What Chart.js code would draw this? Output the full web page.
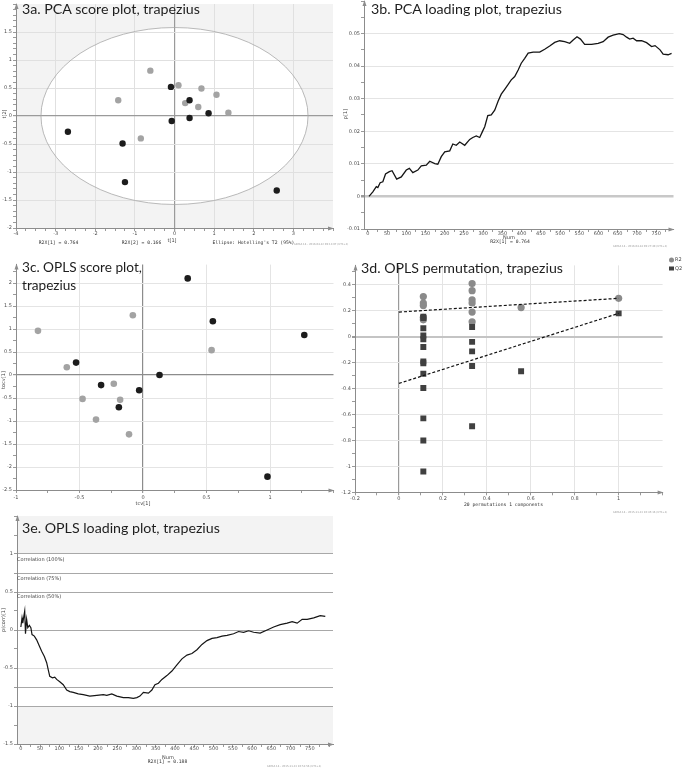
<!DOCTYPE html>
<html>
<head>
<meta charset="utf-8">
<title>Trapezius PCA / OPLS plots</title>
<script src="https://cdn.jsdelivr.net/npm/chart.js@4.4.1/dist/chart.umd.min.js"></script>
<style>
  body { margin: 0; background: #fff; }
  #page { position: relative; width: 685px; height: 769px; overflow: hidden; background: #fff; }
  canvas { position: absolute; }
  .title { position: absolute; font-family: Lato, sans-serif; color: #1e1e1e; white-space: nowrap; line-height: 1; }
  .lab { position: absolute; transform: translate(-50%, -50%); white-space: nowrap; line-height: 1;
         font-family: "DejaVu Sans", sans-serif; font-size: 5px; color: #444; }
  .rot { transform: translate(-50%, -50%) rotate(-90deg); }
  .mono { font-family: "DejaVu Sans Mono", monospace; font-size: 4.7px; color: #333; }
  .left { transform: translate(0, -50%); }
  .stamp { transform: translate(0, -50%); font-size: 2.6px; color: #9a9a9a; }
  .dot { display: inline-block; width: 5px; height: 5px; border-radius: 50%; background: #8a8a8a; vertical-align: middle; }
  .sq { display: inline-block; width: 4.5px; height: 4.5px; background: #404040; vertical-align: middle; }
</style>
</head>
<body>
<div id="page">
  <canvas id="c3a" width="340" height="245" style="left:0;top:0"></canvas>
  <canvas id="c3b" width="345" height="250" style="left:340px;top:0"></canvas>
  <canvas id="c3c" width="340" height="260" style="left:0;top:255px"></canvas>
  <canvas id="c3d" width="345" height="260" style="left:340px;top:255px"></canvas>
  <canvas id="c3e" width="340" height="259" style="left:0;top:510px"></canvas>

  <div class="title" id="t3a" data-base="14.5" data-width="178" style="left:22px">3a. PCA score plot, trapezius</div>
  <div class="title" id="t3b" data-base="14.5" data-width="191" style="left:371px">3b. PCA loading plot, trapezius</div>
  <div class="title" id="t3c" data-base="273.5" data-width="120" style="left:22px">3c. OPLS score plot,</div>
  <div class="title" data-base="291.5" data-match="t3c" style="left:22px">trapezius</div>
  <div class="title" id="t3d" data-base="273.5" data-width="202" style="left:361px">3d. OPLS permutation, trapezius</div>
  <div class="title" id="t3e" data-base="533.5" data-width="198" style="left:22px">3e. OPLS loading plot, trapezius</div>

  <!-- 3a -->
  <div class="lab rot" style="left:4px;top:114px">t[2]</div>
  <div class="lab" style="left:172px;top:239.5px">t[1]</div>
  <div class="lab mono" style="left:58.5px;top:243px">R2X[1] = 0.764</div>
  <div class="lab mono" style="left:141.5px;top:243px">R2X[2] = 0.166</div>
  <div class="lab mono" style="left:253.5px;top:243px">Ellipse: Hotelling's T2 (95%)</div>
  <div class="lab stamp" style="left:294px;top:245px">SIMCA 14 - 2016-04-12 09:13:07 (UTC+2)</div>

  <!-- 3b -->
  <div class="lab rot" style="left:345px;top:114px">p[1]</div>
  <div class="lab" style="left:509px;top:237px">Num</div>
  <div class="lab mono" style="left:510px;top:241.5px">R2X[1] = 0.764</div>
  <div class="lab stamp" style="left:613px;top:247px">SIMCA 14 - 2016-04-14 09:27:49 (UTC+2)</div>

  <!-- 3c -->
  <div class="lab rot" style="left:3px;top:380px">tocv[1]</div>
  <div class="lab" style="left:143px;top:503px">tcv[1]</div>

  <!-- 3d -->
  <div class="lab left" style="left:668.5px;top:259.7px"><span class="dot"></span> R2</div>
  <div class="lab left" style="left:669px;top:268.3px"><span class="sq"></span> Q2</div>
  <div class="lab mono" style="left:503.5px;top:504.5px">20 permutations 1 components</div>
  <div class="lab stamp" style="left:613px;top:513px">SIMCA 14 - 2015-11-23 10:45:16 (UTC+1)</div>

  <!-- 3e -->
  <div class="lab rot" style="left:3px;top:620px">p(corr)[1]</div>
  <div class="lab left" style="left:17px;top:559px">Correlation (100%)</div>
  <div class="lab left" style="left:17px;top:577.5px">Correlation (75%)</div>
  <div class="lab left" style="left:17px;top:596px">Correlation (50%)</div>
  <div class="lab" style="left:168px;top:756.5px">Num</div>
  <div class="lab mono" style="left:167.5px;top:761.5px">R2X[1] = 0.188</div>
  <div class="lab stamp" style="left:267px;top:767px">SIMCA 14 - 2015-11-23 10:51:56 (UTC+1)</div>
</div>

<script>
// ---- 3a PCA score plot: t[1], t[2] per group ----
const pcaGreyT1 = [-1.42, -0.61, -0.85, 0.10, 0.68, 1.06, 0.27, 0.60, 1.36];
const pcaGreyT2 = [0.28, 0.81, -0.40, 0.55, 0.49, 0.38, 0.23, 0.16, 0.06];
const pcaBlackT1 = [-2.69, -1.31, -1.25, -0.09, -0.07, 0.38, 0.86, 0.38, 2.58];
const pcaBlackT2 = [-0.28, -0.49, -1.18, 0.52, -0.09, 0.28, 0.05, -0.035, -1.33];
const hotellingAxes = [3.37, 1.58];   // Hotelling's T2 (95%) semi axes in t[1], t[2]

// ---- 3b PCA loading plot: p[1] against Num ----
const loadNum = [3, 13, 22, 26, 32, 39, 46, 56, 63, 75,
  87, 100, 108, 117, 130, 139, 152, 161, 174, 182,
  191, 200, 213, 221, 230, 239, 252, 265, 273, 282,
  291, 298, 304, 312, 321, 330, 339, 347, 356, 365,
  373, 382, 391, 399, 408, 417, 430, 447, 460, 473,
  486, 499, 512, 525, 534, 544, 553, 564, 582, 599,
  612, 625, 638, 654, 664, 673, 681, 690, 699, 712,
  725, 738, 747, 760, 768, 781, 790];
const loadP1 = [0, 0.0014, 0.0030, 0.0027, 0.0042, 0.0045, 0.0069, 0.0076, 0.0079, 0.0053,
  0.0060, 0.0081, 0.0086, 0.0073, 0.0081, 0.0094, 0.0096, 0.0108, 0.0101, 0.0099,
  0.0122, 0.0137, 0.0140, 0.0161, 0.0157, 0.0167, 0.0157, 0.0175, 0.0181, 0.0186,
  0.0181, 0.0199, 0.0214, 0.0248, 0.0250, 0.0265, 0.0293, 0.0314, 0.0329, 0.0344,
  0.0358, 0.0368, 0.0388, 0.0409, 0.0424, 0.0440, 0.0443, 0.0443, 0.0452, 0.0462,
  0.0473, 0.0478, 0.0475, 0.0470, 0.0480, 0.0490, 0.0483, 0.0467, 0.0467, 0.0470,
  0.0475, 0.0489, 0.0495, 0.0500, 0.0497, 0.0489, 0.0483, 0.0486, 0.0478, 0.0478,
  0.0472, 0.0460, 0.0463, 0.0450, 0.0437, 0.0435, 0.0439];

// ---- 3c OPLS score plot: tcv[1], tocv[1] ----
const oplsGreyTcv = [-0.827, -0.08, -0.60, -0.23, -0.476, -0.18, -0.37, -0.11, 0.54];
const oplsGreyTocv = [0.96, 1.30, 0.17, -0.19, -0.52, -0.54, -0.97, -1.29, 0.54];
const oplsBlackTcv = [-0.527, -0.33, -0.03, -0.19, 0.13, 0.352, 0.55, 1.27, 0.98];
const oplsBlackTocv = [0.27, -0.22, -0.33, -0.70, 0.0, 2.10, 1.17, 0.87, -2.21];

// ---- 3d permutation test (20 permutations) ----
const r2Corr = [0.111, 0.111, 0.111, 0.111, 0.111, 0.333, 0.333, 0.333, 0.333, 0.333, 0.333, 0.556, 1];
const r2Val = [0.31, 0.26, 0.24, 0.15, 0.13, 0.41, 0.355, 0.285, 0.26, 0.19, 0.115, 0.225, 0.296];
const q2Corr = [0.111, 0.111, 0.111, 0.111, 0.111, 0.111, 0.111, 0.111, 0.111, 0.111, 0.111, 0.111, 0.111,
  0.333, 0.333, 0.333, 0.333, 0.333, 0.556, 1];
const q2Val = [0.155, 0.145, 0.065, 0.01, -0.02, -0.08, -0.19, -0.205, -0.285, -0.395, -0.63, -0.80, -1.04,
  0.075, -0.04, -0.113, -0.226, -0.69, -0.267, 0.18];
const fitCorr = [0, 1];
const r2Fit = [0.19, 0.296];
const q2Fit = [-0.36, 0.18];

// ---- 3e OPLS loading plot: p(corr)[1] against Num ----
const corrNum = [0, 3, 5, 8, 10, 12, 15, 18, 22, 26,
  29, 35, 41, 48, 54, 61, 67, 71, 75, 82,
  88, 93, 101, 110, 119, 127, 136, 149, 162, 179,
  197, 214, 223, 236, 249, 266, 279, 292, 301, 309,
  318, 331, 340, 348, 357, 366, 379, 392, 405, 418,
  431, 444, 457, 470, 483, 496, 509, 522, 535, 552,
  565, 578, 591, 604, 621, 639, 656, 673, 691, 704,
  717, 730, 743, 760, 777, 790];
const corrP = [0.04, 0.16, 0.09, 0.19, 0.25, -0.05, 0.14, 0.03, 0.06, 0.03,
  -0.06, -0.08, -0.13, -0.21, -0.28, -0.35, -0.43, -0.52, -0.61, -0.63,
  -0.62, -0.65, -0.68, -0.72, -0.79, -0.81, -0.82, -0.84, -0.85, -0.87,
  -0.86, -0.85, -0.86, -0.84, -0.87, -0.89, -0.89, -0.90, -0.89, -0.87,
  -0.82, -0.83, -0.79, -0.72, -0.70, -0.65, -0.60, -0.54, -0.46, -0.38,
  -0.33, -0.31, -0.26, -0.19, -0.14, -0.11, -0.10, -0.08, -0.07, -0.05,
  -0.02, -0.03, -0.01, -0.03, -0.04, 0.00, 0.04, 0.07, 0.09, 0.11,
  0.09, 0.14, 0.14, 0.16, 0.19, 0.18];

// ---- helpers ----
function pts(xs, ys) { return xs.map((x, i) => ({ x: x, y: ys[i] })); }
function isMul(v, m) { return Math.abs(v / m - Math.round(v / m)) < 1e-6; }
function fmt(v) { return String(Math.round(v * 10000) / 10000); }
function tickList(min, max, step) {
  const out = [];
  for (let i = Math.ceil(min / step - 1e-9); i * step <= max + 1e-9; i++) {
    out.push({ value: Math.round(i * step * 1e6) / 1e6 });
  }
  return out;
}

// o: min, max, step (minor ticks), major (labels), labelMax, size (px of axis box), vertical, pad, line(v) -> [colour, width] or null
function axis(o) {
  return {
    type: 'linear', min: o.min, max: o.max,
    border: { color: '#8c8c8c', width: 1 },
    grid: {
      drawOnChartArea: true,
      color: c => { const l = o.line ? o.line(c.tick.value) : null; return l ? l[0] : 'rgba(0,0,0,0)'; },
      lineWidth: c => { const l = o.line ? o.line(c.tick.value) : null; return l ? l[1] : 1; },
      tickLength: 3,
      tickColor: '#9a9a9a'
    },
    ticks: {
      autoSkip: false, maxRotation: 0, minRotation: 0,
      padding: o.pad === undefined ? 1 : o.pad,
      color: '#4d4d4d', font: { size: 5, family: '"DejaVu Sans", sans-serif' },
      callback: v => (isMul(v, o.major) && v <= o.labelMax + 1e-9) ? fmt(v) : ''
    },
    afterBuildTicks: s => { s.ticks = tickList(o.min, o.max, o.step); },
    afterFit: s => {
      if (o.vertical) { s.width = o.size; s.paddingTop = 0; s.paddingBottom = 0; }
      else { s.height = o.size; s.paddingLeft = 0; s.paddingRight = 0; }
    }
  };
}

function options(pad, scales) {
  return {
    responsive: false, animation: false, devicePixelRatio: 1, events: [],
    layout: { padding: { left: 0, bottom: 0, top: pad.top, right: pad.right } },
    plugins: { legend: { display: false }, tooltip: { enabled: false } },
    scales: scales
  };
}

const axisArrows = {
  id: 'axisArrows',
  afterDraw(chart) {
    const { ctx, chartArea: a } = chart;
    const lx = Math.floor(a.left) + 0.5, by = Math.floor(a.bottom) + 0.5;
    ctx.save();
    ctx.fillStyle = '#8c8c8c';
    ctx.beginPath();
    ctx.moveTo(lx, a.top - 1); ctx.lineTo(lx - 2, a.top + 5); ctx.lineTo(lx + 2, a.top + 5);
    ctx.fill();
    ctx.beginPath();
    ctx.moveTo(a.right + 1, by); ctx.lineTo(a.right - 5, by - 2); ctx.lineTo(a.right - 5, by + 2);
    ctx.fill();
    ctx.restore();
  }
};

function ellipsePath(chart) {
  const { ctx, scales: { x, y } } = chart;
  const cx = x.getPixelForValue(0), cy = y.getPixelForValue(0);
  ctx.beginPath();
  ctx.ellipse(cx, cy, x.getPixelForValue(hotellingAxes[0]) - cx, cy - y.getPixelForValue(hotellingAxes[1]), 0, 0, Math.PI * 2);
}

const hotelling = {
  id: 'hotelling',
  beforeDraw(chart) {
    const { ctx, chartArea: a } = chart;
    ctx.save();
    ctx.fillStyle = '#f3f3f3';
    ctx.fillRect(a.left, a.top, a.width, a.height);
    ellipsePath(chart);
    ctx.fillStyle = '#ffffff';
    ctx.fill();
    ctx.restore();
  },
  beforeDatasetsDraw(chart) {
    const { ctx } = chart;
    ctx.save();
    ellipsePath(chart);
    ctx.strokeStyle = '#a8a8a8';
    ctx.lineWidth = 0.8;
    ctx.stroke();
    ctx.restore();
  }
};

const corrBands = {
  id: 'corrBands',
  beforeDraw(chart) {
    const { ctx, chartArea: a, scales: { y } } = chart;
    const top = y.getPixelForValue(1), bot = y.getPixelForValue(-1);
    ctx.save();
    ctx.fillStyle = '#f3f3f3';
    ctx.fillRect(a.left, a.top, a.width, top - a.top);
    ctx.fillRect(a.left, bot, a.width, a.bottom - bot);
    ctx.restore();
  }
};

const greyDot = '#a3a3a3';
const blackDot = '#1c1c1c';

// 3a
new Chart(document.getElementById('c3a'), {
  type: 'scatter',
  data: { datasets: [
    { data: pts(pcaBlackT1, pcaBlackT2), pointBackgroundColor: blackDot, backgroundColor: blackDot, pointRadius: 3.2, pointBorderWidth: 0 },
    { data: pts(pcaGreyT1, pcaGreyT2), pointBackgroundColor: greyDot, backgroundColor: greyDot, pointRadius: 3.2, pointBorderWidth: 0 }
  ] },
  options: options({ top: 1, right: 7 }, {
    x: axis({ min: -4, max: 4, step: 0.25, major: 1, labelMax: 3, size: 17, pad: 0,
      line: v => v === 0 ? ['#9a9a9a', 1.2] : (isMul(v, 1) && v < 4 ? ['#e0e0e0', 1] : null) }),
    y: axis({ min: -2, max: 2, step: 0.1, major: 0.5, labelMax: 1.5, size: 16, vertical: true,
      line: v => v === 0 ? ['#9a9a9a', 1.2] : (isMul(v, 0.5) && v < 2 ? ['#e0e0e0', 1] : null) })
  }),
  plugins: [hotelling, axisArrows]
});

// 3b
new Chart(document.getElementById('c3b'), {
  type: 'scatter',
  data: { datasets: [
    { data: pts(loadNum, loadP1), showLine: true, pointRadius: 0, borderColor: '#151515', borderWidth: 1.3, fill: false }
  ] },
  options: options({ top: 1, right: 11.5 }, {
    x: axis({ min: -10, max: 795, step: 25, major: 50, labelMax: 750, size: 21, pad: -1, line: null }),
    y: axis({ min: -0.01, max: 0.06, step: 0.005, major: 0.01, labelMax: 0.05, size: 24, vertical: true,
      line: v => Math.abs(v) < 1e-9 ? ['#c8c8c8', 2.5] : (isMul(v, 0.01) && v < 0.059 ? ['#e4e4e4', 1] : null) })
  }),
  plugins: [axisArrows]
});

// 3c
new Chart(document.getElementById('c3c'), {
  type: 'scatter',
  data: { datasets: [
    { data: pts(oplsBlackTcv, oplsBlackTocv), pointBackgroundColor: blackDot, backgroundColor: blackDot, pointRadius: 3.3, pointBorderWidth: 0 },
    { data: pts(oplsGreyTcv, oplsGreyTocv), pointBackgroundColor: greyDot, backgroundColor: greyDot, pointRadius: 3.3, pointBorderWidth: 0 }
  ] },
  options: options({ top: 9.6, right: 6.5 }, {
    x: axis({ min: -1, max: 1.5, step: 0.25, major: 0.5, labelMax: 1, size: 25, pad: 1.5,
      line: v => v === 0 ? ['#8c8c8c', 1.2] : (isMul(v, 0.5) && v < 1.5 ? ['#e4e4e4', 1] : null) }),
    y: axis({ min: -2.5, max: 2.4, step: 0.25, major: 0.5, labelMax: 2, size: 16, vertical: true,
      line: v => v === 0 ? ['#8c8c8c', 1.2] : (isMul(v, 0.5) ? ['#e4e4e4', 1] : null) })
  }),
  plugins: [axisArrows]
});

// 3d
new Chart(document.getElementById('c3d'), {
  type: 'scatter',
  data: { datasets: [
    { data: pts(fitCorr, r2Fit), showLine: true, pointRadius: 0, borderColor: '#111', borderWidth: 1.2, borderDash: [3, 2] },
    { data: pts(fitCorr, q2Fit), showLine: true, pointRadius: 0, borderColor: '#111', borderWidth: 1.2, borderDash: [3, 2] },
    { data: pts(q2Corr, q2Val), pointStyle: 'rect', pointBackgroundColor: '#404040', backgroundColor: '#404040', pointRadius: 4.2, pointBorderWidth: 0 },
    { data: pts(r2Corr, r2Val), pointBackgroundColor: '#8a8a8a', backgroundColor: '#8a8a8a', pointRadius: 3.6, pointBorderWidth: 0 }
  ] },
  options: options({ top: 10.4, right: 22.4 }, {
    x: axis({ min: -0.2, max: 1.2, step: 0.1, major: 0.2, labelMax: 1, size: 22.7, pad: 0.7,
      line: v => Math.abs(v) < 1e-9 ? ['#9a9a9a', 1.2] : (isMul(v, 0.2) && v < 1.19 ? ['#e4e4e4', 1] : null) }),
    y: axis({ min: -1.2, max: 0.55, step: 0.1, major: 0.2, labelMax: 0.4, size: 15, vertical: true,
      line: v => Math.abs(v) < 1e-9 ? ['#c4c4c4', 2] : (isMul(v, 0.2) ? ['#e4e4e4', 1] : null) })
  }),
  plugins: [axisArrows]
});

// 3e
const corrLines = [1, 0.75, 0.5, 0, -0.75, -1];
new Chart(document.getElementById('c3e'), {
  type: 'scatter',
  data: { datasets: [
    { data: pts(corrNum, corrP), showLine: true, pointRadius: 0, borderColor: '#151515', borderWidth: 1.2, fill: false }
  ] },
  options: options({ top: 6, right: 7 }, {
    x: axis({ min: -10, max: 810, step: 25, major: 50, labelMax: 750, size: 25, pad: -1, line: null }),
    y: axis({ min: -1.5, max: 1.5, step: 0.25, major: 0.5, labelMax: 1, size: 17, vertical: true,
      line: v => corrLines.some(c => Math.abs(c - v) < 1e-9) ? ['#a8a8a8', 1] : (isMul(v, 0.5) && v < 1.5 ? ['#dcdcdc', 1] : null) })
  }),
  plugins: [corrBands, axisArrows]
});

// fit the panel titles to their widths and baselines
const fitted = {};
document.querySelectorAll('.title').forEach(el => {
  let size;
  if (el.dataset.match) {
    size = fitted[el.dataset.match];
  } else {
    el.style.fontSize = '100px';
    size = 100 * +el.dataset.width / el.getBoundingClientRect().width;
    fitted[el.id] = size;
  }
  el.style.fontSize = size + 'px';
  el.style.top = (+el.dataset.base - 0.887 * size) + 'px';
});
</script>
</body>
</html>
